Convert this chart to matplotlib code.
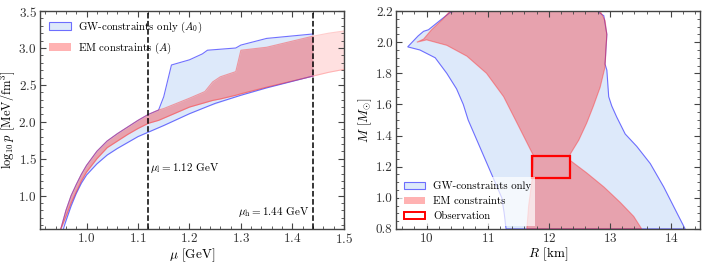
import numpy as np
import matplotlib.pyplot as plt
from matplotlib.patches import Patch, Rectangle

plt.rcParams['font.family'] = 'serif'
plt.rcParams['font.serif'] = ['cmr10']
plt.rcParams['mathtext.fontset'] = 'cm'
plt.rcParams['axes.formatter.use_mathtext'] = True
plt.rcParams['font.size'] = 9.5

# --- left panel: log10 p vs mu ---
mu_gw = [0.95, 0.96, 0.97, 0.98, 0.99, 1.0, 1.02, 1.04, 1.06, 1.08, 1.1, 1.12, 1.14,
         1.15, 1.165, 1.2, 1.225, 1.235, 1.29, 1.3, 1.35, 1.44]
gw_upper = [0.55, 0.80, 1.0, 1.15, 1.29, 1.41, 1.60, 1.74, 1.84, 1.93, 2.02, 2.10, 2.16,
            2.34, 2.77, 2.84, 2.92, 2.97, 3.0, 3.04, 3.13, 3.19]
mu_gwl = [0.955, 0.96, 0.97, 0.98, 0.99, 1.0, 1.02, 1.04, 1.06, 1.08, 1.1, 1.12, 1.15,
          1.2, 1.25, 1.3, 1.35, 1.44]
gw_lower = [0.55, 0.66, 0.86, 1.03, 1.17, 1.28, 1.43, 1.55, 1.64, 1.72, 1.80, 1.86, 1.95,
            2.11, 2.25, 2.36, 2.46, 2.62]

mu_em = [0.95, 0.96, 0.97, 0.98, 0.99, 1.0, 1.02, 1.04, 1.06, 1.08, 1.1, 1.12, 1.14,
         1.15, 1.2, 1.23, 1.245, 1.26, 1.29, 1.30, 1.35, 1.44]
em_upper = [0.55, 0.80, 1.0, 1.15, 1.29, 1.41, 1.60, 1.74, 1.84, 1.93, 2.02, 2.10, 2.16,
            2.18, 2.32, 2.41, 2.54, 2.61, 2.68, 2.97, 3.01, 3.16]
em_lower = [0.55, 0.72, 0.90, 1.05, 1.20, 1.32, 1.50, 1.65, 1.74, 1.83, 1.91, 1.98, 2.02,
            2.05, 2.20, 2.26, 2.29, 2.31, 2.36, 2.38, 2.47, 2.62]
mu_ext = [1.44, 1.47, 1.5]
ext_upper = [3.16, 3.20, 3.23]
ext_lower = [2.62, 2.67, 2.71]

mu_l, mu_h = 1.12, 1.44

# --- right panel: M-R regions (boundary as R, M pairs) ---
gw_R = [11.30, 11.27, 11.23, 11.12, 11.01, 10.90, 10.79, 10.68, 10.60, 10.49, 10.33, 10.14,
        9.89, 9.69, 9.86, 9.95, 10.03, 10.22, 10.38, 10.46, 12.79, 12.90, 12.95, 12.92, 12.95,
        12.98, 13.03, 13.11, 13.25, 13.44, 13.66, 13.88, 14.10, 14.23]
gw_M = [0.80, 0.90, 1.00, 1.10, 1.20, 1.30, 1.40, 1.50, 1.60, 1.70, 1.80, 1.90,
        1.95, 1.97, 2.04, 2.07, 2.08, 2.14, 2.19, 2.20, 2.20, 2.17, 2.05, 1.86, 1.82,
        1.65, 1.59, 1.52, 1.41, 1.33, 1.22, 1.07, 0.90, 0.80]

em_R = [11.64, 11.67, 11.73, 11.75, 11.48, 11.26, 10.98, 10.66, 10.33, 10.0, 9.84, 9.95,
        10.08, 10.27, 10.38, 12.84, 12.92, 12.95, 12.92, 12.84, 12.73, 12.62, 12.49, 12.35,
        12.35, 12.62, 12.90, 13.17, 13.39, 13.52]
em_M = [0.80, 0.95, 1.13, 1.27, 1.48, 1.65, 1.80, 1.91, 1.98, 2.015, 2.0, 2.02,
        2.08, 2.15, 2.20, 2.20, 2.14, 2.05, 1.84, 1.71, 1.59, 1.48, 1.37, 1.28,
        1.24, 1.16, 1.07, 0.97, 0.88, 0.80]

obs_R = [11.73, 12.34]
obs_M = [1.13, 1.27]

blue_face = '#dde9fa'
blue_edge = (0.3, 0.3, 1.0, 0.8)
red_face = (1.0, 0.0, 0.0, 0.3)
red_edge = (1.0, 0.2, 0.2, 0.45)
axcol = '#444444'

fig = plt.figure(figsize=(7.06, 2.64), dpi=100)
ax1 = fig.add_axes([0.057, 0.133, 0.430, 0.825])
ax2 = fig.add_axes([0.561, 0.133, 0.431, 0.825])

# left
gw_lo_i = np.interp(mu_gw, mu_gwl, gw_lower, left=0.55)
ax1.fill_between(mu_gw, gw_lo_i, gw_upper, color=blue_face, lw=0)
ax1.plot(mu_gw, gw_upper, color=blue_edge, lw=0.8)
ax1.plot(mu_gwl, gw_lower, color=blue_edge, lw=0.8)
ax1.fill_between(mu_em, em_lower, em_upper, color=red_face, lw=0)
ax1.plot(mu_em, em_upper, color=red_edge, lw=0.8)
ax1.plot(mu_em, em_lower, color=red_edge, lw=0.8)
ax1.fill_between(mu_ext, ext_lower, ext_upper, color=(1, 0, 0, 0.12), lw=0)
ax1.plot(mu_ext, ext_upper, color=(1, 0, 0, 0.2), lw=0.8)
ax1.plot(mu_ext, ext_lower, color=(1, 0, 0, 0.2), lw=0.8)
ax1.axvline(mu_l, color='k', ls='--', lw=1.1)
ax1.axvline(mu_h, color='k', ls='--', lw=1.1)
ax1.text(mu_l + 0.004, 1.37, r'$\mu_{\rm l} = 1.12$ GeV', fontsize=8, va='center')
ax1.text(mu_h - 0.006, 0.78, r'$\mu_{\rm h} = 1.44$ GeV', fontsize=8, va='center', ha='right')
ax1.set_xlim(0.91, 1.5)
ax1.set_ylim(0.55, 3.5)
ax1.set_xticks([1.0, 1.1, 1.2, 1.3, 1.4, 1.5])
ax1.set_yticks([1.0, 1.5, 2.0, 2.5, 3.0, 3.5])
ax1.set_xlabel(r'$\mu$ [GeV]', labelpad=0)
ax1.set_ylabel(r'$\log_{10} p$ [MeV/fm$^3$]', labelpad=1, fontsize=9)
h1 = [Patch(facecolor=blue_face, edgecolor=blue_edge, lw=0.8),
      Patch(facecolor=red_face, edgecolor='none')]
ax1.legend(h1, [r'GW-constraints only ($A_0$)', r'EM constraints ($A$)'],
           loc='upper left', frameon=False, fontsize=7.8, handlelength=2.0,
           handletextpad=0.7, borderaxespad=0.4)

# right
ax2.fill(gw_R, gw_M, facecolor=blue_face, edgecolor=blue_edge, lw=0.8)
ax2.fill(em_R, em_M, facecolor=red_face, edgecolor=red_edge, lw=0.8)
ax2.add_patch(Rectangle((obs_R[0], obs_M[0]), obs_R[1] - obs_R[0], obs_M[1] - obs_M[0],
                        facecolor='none', edgecolor='red', lw=1.6, zorder=5))
ax2.set_xlim(9.5, 14.48)
ax2.set_ylim(0.8, 2.2)
ax2.set_xticks([10, 11, 12, 13, 14])
ax2.set_yticks([0.8, 1.0, 1.2, 1.4, 1.6, 1.8, 2.0, 2.2])
ax2.yaxis.set_major_formatter(plt.FormatStrFormatter('%.1f'))
ax2.set_xlabel(r'$R$ [km]', labelpad=0)
ax2.set_ylabel(r'$M$ [$M_{\odot}$]', labelpad=1)
h2 = [Patch(facecolor=blue_face, edgecolor=blue_edge, lw=0.8),
      Patch(facecolor=red_face, edgecolor='none'),
      Patch(facecolor='white', edgecolor='red', lw=1.4)]
ax2.legend(h2, ['GW-constraints only', 'EM constraints', 'Observation'],
           loc='lower left', frameon=True, fontsize=7.8, handlelength=2.0,
           handletextpad=0.7, borderaxespad=0.3, framealpha=0.7, edgecolor='none',
           fancybox=False)

for ax in (ax1, ax2):
    ax.minorticks_on()
    ax.tick_params(which='both', direction='in', top=True, right=True, colors=axcol,
                   labelcolor='#333333', labelsize=9.5, pad=2.5)
    ax.tick_params(which='major', length=4, width=0.8)
    ax.tick_params(which='minor', length=2, width=0.6)
    for s in ax.spines.values():
        s.set_color(axcol)
        s.set_linewidth(1.0)

fig.savefig('out.png', dpi=100)
